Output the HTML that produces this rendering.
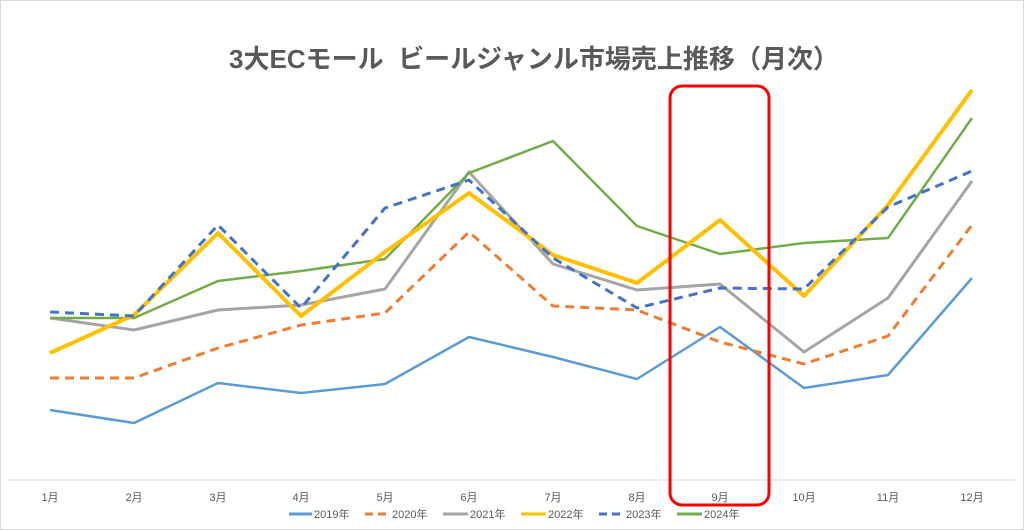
<!DOCTYPE html>
<html><head><meta charset="utf-8"><style>
body{margin:0;background:#fff;}
svg{display:block;font-family:"Liberation Sans","Noto Sans CJK JP",sans-serif;}
</style></head><body>
<svg width="1024" height="530" viewBox="0 0 1024 530">
<rect x="0.5" y="0.5" width="1023" height="529" fill="#fff" stroke="#d9d9d9"/>
<text x="229" y="68" font-size="26" font-weight="bold" fill="#595959" textLength="610" lengthAdjust="spacingAndGlyphs">3大ECモール&#160;&#160;ビールジャンル市場売上推移（月次）</text>
<line x1="8" y1="480" x2="1015" y2="480" stroke="#d9d9d9" stroke-width="1"/>
<g font-size="11" fill="#595959" text-anchor="middle">
<text x="50" y="501">1月</text><text x="134" y="501">2月</text><text x="218" y="501">3月</text><text x="301" y="501">4月</text><text x="385" y="501">5月</text><text x="469" y="501">6月</text><text x="553" y="501">7月</text><text x="637" y="501">8月</text><text x="720" y="501">9月</text><text x="804" y="501">10月</text><text x="888" y="501">11月</text><text x="972" y="501">12月</text>
</g>
<g fill="none" stroke-linejoin="round">
<polyline stroke="#5b9bd5" stroke-width="2.5" points="50,410 134,423 218,383 301,393 385,384 469,337 553,357 637,379 720,327 804,388 888,375 972,278"/>
<polyline stroke="#ed7d31" stroke-width="3" stroke-dasharray="9,6" points="50,378 134,378 218,348 301,325 385,313 469,232 553,306 637,310 720,342 804,364 888,336 972,225"/>
<polyline stroke="#a5a5a5" stroke-width="3" points="50,318 134,330 218,310 301,305 385,289 469,172 553,264 637,290 720,284 804,352 888,298 972,181"/>
<polyline stroke="#70ad47" stroke-width="2.5" points="50,318 134,318 218,281 301,271 385,259 469,173 553,141 637,226 720,254 804,243 888,238 972,118"/>
<polyline stroke="#ffc000" stroke-width="4" points="50,353 134,315 218,233 301,316 385,252 469,193 553,255 637,283 720,220 804,296 888,205 972,90"/>
<polyline stroke="#4472c4" stroke-width="3" stroke-dasharray="9,6" points="50,312 134,316 218,225 301,308 385,208 469,180 553,258 637,308 720,288 804,289 888,207 972,171"/>
</g>
<rect x="670" y="86" width="99" height="419" rx="12" fill="none" stroke="#ff0000" stroke-width="3"/>
<g font-size="11" fill="#595959">
<line x1="289" y1="514" x2="312" y2="514" stroke="#5b9bd5" stroke-width="3"/><text x="314" y="518">2019年</text>
<line x1="365" y1="514" x2="390" y2="514" stroke="#ed7d31" stroke-width="3" stroke-dasharray="8,5"/><text x="392" y="518">2020年</text>
<line x1="443" y1="514" x2="468" y2="514" stroke="#a5a5a5" stroke-width="3"/><text x="470" y="518">2021年</text>
<line x1="521" y1="514" x2="546" y2="514" stroke="#ffc000" stroke-width="3"/><text x="548" y="518">2022年</text>
<line x1="599" y1="514" x2="624" y2="514" stroke="#4472c4" stroke-width="3" stroke-dasharray="8,5"/><text x="626" y="518">2023年</text>
<line x1="677" y1="514" x2="702" y2="514" stroke="#70ad47" stroke-width="3"/><text x="704" y="518">2024年</text>
</g>
</svg>
</body></html>
